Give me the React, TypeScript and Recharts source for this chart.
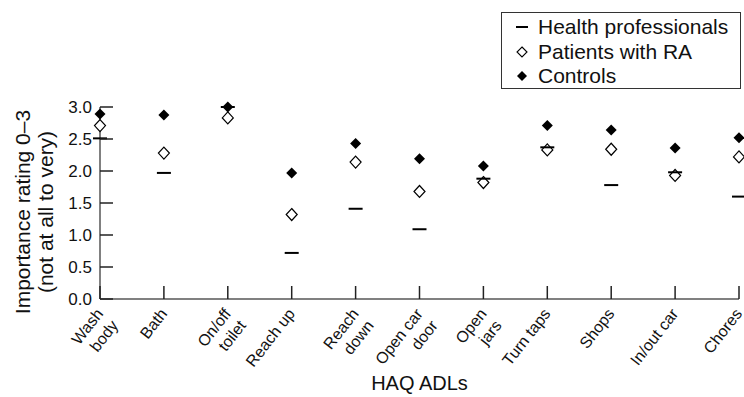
import React from 'react';
import { ComposedChart, Scatter, XAxis, YAxis, Legend, Label } from 'recharts';

const categories = [
  'Wash\nbody',
  'Bath',
  'On/off\ntoilet',
  'Reach up',
  'Reach\ndown',
  'Open car\ndoor',
  'Open\njars',
  'Turn taps',
  'Shops',
  'In/out car',
  'Chores',
];
const healthProfessionals = [2.51, 1.97, 3.0, 0.72, 1.41, 1.09, 1.88, 2.37, 1.78, 1.98, 1.6];
const patientsWithRA = [2.71, 2.28, 2.83, 1.32, 2.14, 1.68, 1.82, 2.33, 2.34, 1.93, 2.22];
const controls = [2.89, 2.875, 3.0, 1.97, 2.43, 2.19, 2.08, 2.71, 2.64, 2.36, 2.52];
const yTicks = [0, 0.5, 1, 1.5, 2, 2.5, 3];
const seriesNames = ['Health professionals', 'Patients with RA', 'Controls'];
const yTitleLines = ['Importance rating 0\u20133', '(not at all to very)'];
const xTitle = 'HAQ ADLs';

const data = categories.map((c, i) => ({
  name: c,
  hp: healthProfessionals[i],
  ra: patientsWithRA[i],
  ctrl: controls[i],
}));

const FONT = '"Liberation Sans", Arial, Helvetica, sans-serif';
const INK = '#111';
const X_ANGLE = 52;

const Dash = (props: any) => {
  const { cx, cy } = props;
  if (cx == null || cy == null) return null;
  return <line x1={cx - 7} x2={cx + 7} y1={cy} y2={cy} stroke="#000" strokeWidth={2} />;
};
const OpenDiamond = (props: any) => {
  const { cx, cy } = props;
  if (cx == null || cy == null) return null;
  return (
    <path
      d={`M${cx},${cy - 6}L${cx + 5.5},${cy}L${cx},${cy + 6}L${cx - 5.5},${cy}Z`}
      fill="#fff"
      stroke="#000"
      strokeWidth={1.2}
    />
  );
};
const FilledDiamond = (props: any) => {
  const { cx, cy } = props;
  if (cx == null || cy == null) return null;
  return <path d={`M${cx},${cy - 5.5}L${cx + 5.5},${cy}L${cx},${cy + 5.5}L${cx - 5.5},${cy}Z`} fill="#000" />;
};

const XTick = (props: any) => {
  const { x, y, payload } = props;
  const lines = String(payload.value).split('\n');
  const px = x + 4;
  const py = y + 15;
  return (
    <g>
      <line x1={x} x2={x} y1={y} y2={y - 13} stroke="#222" strokeWidth={1.5} />
      <text
        transform={`rotate(-${X_ANGLE}, ${px}, ${py})`}
        x={px}
        y={py}
        textAnchor="end"
        fontSize={16}
        fontFamily={FONT}
        fill={INK}
      >
        {lines.map((l, i) => (
          <tspan key={i} x={px} dy={i === 0 ? 0 : 19}>
            {l}
          </tspan>
        ))}
      </text>
    </g>
  );
};

const YTick = (props: any) => {
  const { x, y, payload } = props;
  return (
    <g>
      <line x1={x + 8} x2={x + 21} y1={y} y2={y} stroke="#222" strokeWidth={1.5} />
      <text x={x} y={y + 6} textAnchor="end" fontSize={17} fontFamily={FONT} fill={INK}>
        {Number(payload.value).toFixed(1)}
      </text>
    </g>
  );
};

const YTitle = () => {
  const cy = 212;
  const xs = [30, 53];
  return (
    <g>
      {yTitleLines.map((l, i) => (
        <text
          key={i}
          x={xs[i]}
          y={cy}
          transform={`rotate(-90, ${xs[i]}, ${cy})`}
          textAnchor="middle"
          fontSize={21}
          fontFamily={FONT}
          fill={INK}
        >
          {l}
        </text>
      ))}
    </g>
  );
};

const XTitle = (props: any) => {
  const vb = props.viewBox || {};
  const cx = (vb.x ?? 0) + (vb.width ?? 0) / 2;
  const y = (vb.y ?? 0) + 91;
  return (
    <text x={cx} y={y} textAnchor="middle" fontSize={20} fontFamily={FONT} fill={INK}>
      {xTitle}
    </text>
  );
};

const LegendMarker = ({ kind }: { kind: number }) => (
  <svg width={14} height={14} style={{ display: 'block' }}>
    {kind === 0 && <line x1={1} x2={13} y1={7} y2={7} stroke="#000" strokeWidth={2} />}
    {kind === 1 && <path d="M7,2L12,7L7,12L2,7Z" fill="#fff" stroke="#000" strokeWidth={1.1} />}
    {kind === 2 && <path d="M7,2L12,7L7,12L2,7Z" fill="#000" />}
  </svg>
);

const renderLegend = () => (
  <div
    style={{
      boxSizing: 'border-box',
      width: 240,
      height: 77,
      border: '1px solid #333',
      background: '#fff',
      fontFamily: FONT,
      fontSize: 21,
      color: INK,
      paddingTop: 2,
    }}
  >
    {seriesNames.map((n, i) => (
      <div key={n} style={{ display: 'flex', alignItems: 'center', height: 24.5 }}>
        <div style={{ marginLeft: 13, width: 14 }}>
          <LegendMarker kind={i} />
        </div>
        <span style={{ marginLeft: 9, whiteSpace: 'nowrap', lineHeight: '24px' }}>{n}</span>
      </div>
    ))}
  </div>
);

export default function App() {
  return (
    <div style={{ position: 'absolute', left: 0, top: 0, width: 744, height: 397, background: '#fff' }}>
      <ComposedChart width={744} height={397} data={data} margin={{ top: 107, right: 5, bottom: 0, left: 0 }}>
        <XAxis
          dataKey="name"
          type="category"
          scale="point"
          padding={{ left: 0, right: 0 }}
          height={98}
          axisLine={{ stroke: '#808080', strokeWidth: 2 }}
          tickLine={false}
          tickSize={0}
          tickMargin={0}
          tick={<XTick />}
          interval={0}
        >
          <Label content={<XTitle />} />
        </XAxis>
        <YAxis
          type="number"
          domain={[0, 3]}
          ticks={yTicks}
          width={100}
          axisLine={{ stroke: '#808080', strokeWidth: 2 }}
          tickLine={false}
          tickSize={0}
          tickMargin={8}
          tick={<YTick />}
          interval={0}
        >
          <Label content={<YTitle />} />
        </YAxis>
        <Legend
          layout="vertical"
          align="center"
          verticalAlign="middle"
          content={renderLegend}
          wrapperStyle={{ top: 12, left: 501, width: 240, height: 77 }}
        />
        <Scatter name={seriesNames[1]} dataKey="ra" shape={<OpenDiamond />} isAnimationActive={false} />
        <Scatter name={seriesNames[2]} dataKey="ctrl" shape={<FilledDiamond />} isAnimationActive={false} />
        <Scatter name={seriesNames[0]} dataKey="hp" shape={<Dash />} isAnimationActive={false} />
      </ComposedChart>
    </div>
  );
}
